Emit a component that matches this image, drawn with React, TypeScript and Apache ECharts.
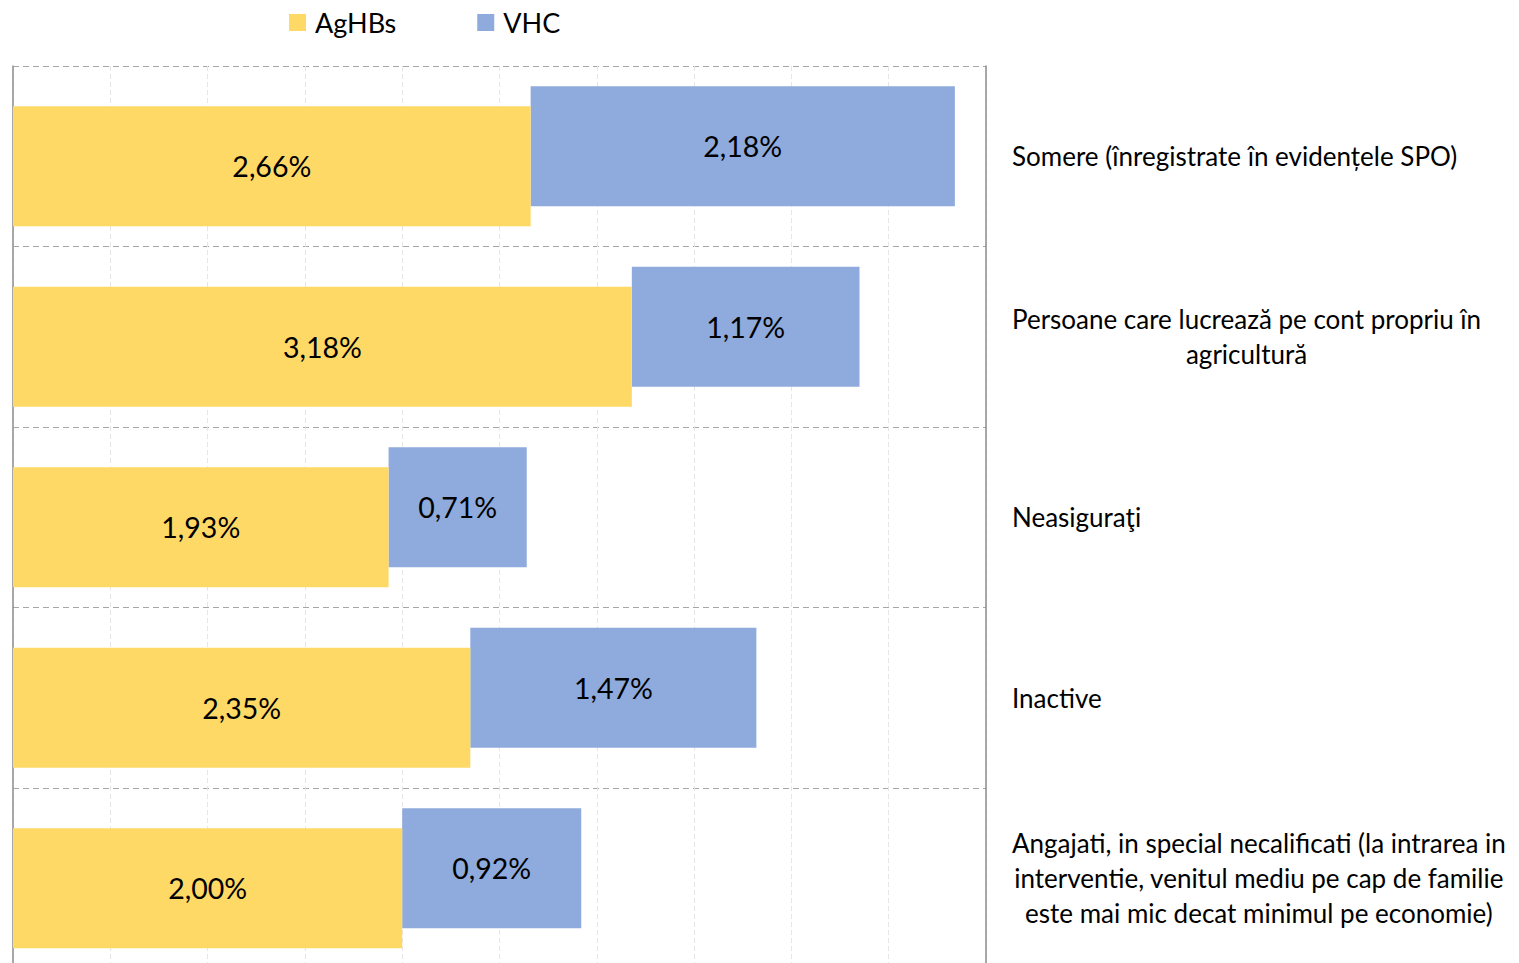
import React, { useEffect, useRef } from "react";
import * as echarts from "echarts";

const categories = [
  "Somere (înregistrate în evidențele SPO)",
  "Persoane care lucrează pe cont propriu în\nagricultură",
  "Neasiguraţi",
  "Inactive",
  "Angajati, in special necalificati (la intrarea in\ninterventie, venitul mediu pe cap de familie\neste mai mic decat minimul pe economie)",
];
const agHBs = [2.66, 3.18, 1.93, 2.35, 2.0];
const vhc = [2.18, 1.17, 0.71, 1.47, 0.92];
const seriesNames = ["AgHBs", "VHC"];

const FONT = "Lato";
const fmt = (v: number) => v.toFixed(2).replace(".", ",") + "%";

export default function App() {
  const ref = useRef<HTMLDivElement>(null);
  useEffect(() => {
    if (!ref.current) return;
    const chart = echarts.init(ref.current, null, { renderer: "svg" });
    const barW = 120;
    const labelStyle = {
      show: true,
      position: "inside",
      color: "#000",
      fontFamily: FONT,
      fontSize: 28.5,
      formatter: (p: any) => fmt(p.value),
    };
    chart.setOption({
      animation: false,
      backgroundColor: "#fff",
      legend: {
        data: seriesNames,
        left: 289,
        top: 9,
        padding: 0,
        itemWidth: 17,
        itemHeight: 17,
        itemGap: 81,
        icon: "rect",
        textStyle: {
          fontFamily: FONT,
          fontSize: 27,
          color: "#000",
          padding: [0, 0, 0, 4],
        },
      },
      grid: { left: 13, right: 533, top: 66, height: 902.5 },
      xAxis: {
        type: "value",
        min: 0,
        max: 5,
        interval: 0.5,
        axisLabel: { show: false },
        axisLine: { show: false },
        axisTick: { show: false },
        splitLine: {
          show: true,
          lineStyle: { color: "#e6e6e6", type: [5, 3], width: 1 },
        },
      },
      yAxis: [
        {
          type: "category",
          data: categories,
          inverse: true,
          position: "right",
          axisLine: {
            show: true,
            onZero: false,
            lineStyle: { color: "#8c8c8c", width: 1.5 },
          },
          axisTick: { show: false },
          splitLine: {
            show: true,
            lineStyle: { color: "#a6a6a6", type: [6, 4], width: 1.2 },
          },
          axisLabel: {
            interval: 0,
            margin: 26,
            align: "left",
            color: "#000",
            fontFamily: FONT,
            fontSize: 26,
            lineHeight: 35,
            formatter: (v: string) =>
              v
                .split("\n")
                .map((l) => `{c|${l}}`)
                .join("\n"),
            rich: {
              c: {
                align: "center",
                color: "#000",
                fontFamily: FONT,
                fontSize: 26,
                lineHeight: 35,
              },
            },
          },
        },
        {
          type: "category",
          data: categories,
          inverse: true,
          position: "left",
          axisLine: {
            show: true,
            onZero: false,
            lineStyle: { color: "#8c8c8c", width: 1.5 },
          },
          axisTick: { show: false },
          axisLabel: { show: false },
          splitLine: { show: false },
        },
      ],
      series: [
        {
          name: "base",
          type: "bar",
          stack: "v",
          data: agHBs,
          barWidth: barW,
          barGap: "-83.33%",
          itemStyle: { color: "transparent" },
          label: { show: false },
          silent: true,
          emphasis: { disabled: true },
        },
        {
          name: "VHC",
          type: "bar",
          stack: "v",
          data: vhc,
          barWidth: barW,
          barGap: "-83.33%",
          itemStyle: { color: "#8FAADC" },
          label: labelStyle,
        },
        {
          name: "AgHBs",
          type: "bar",
          stack: "y",
          data: agHBs,
          barWidth: barW,
          barGap: "-83.33%",
          itemStyle: { color: "#FFD966" },
          label: labelStyle,
        },
      ],
    });
    return () => chart.dispose();
  }, []);
  return (
    <div
      style={{
        position: "absolute",
        left: 0,
        top: 0,
        width: 1519,
        height: 963,
        overflow: "hidden",
      }}
    >
      <div ref={ref} style={{ width: 1519, height: 990 }} />
    </div>
  );
}
